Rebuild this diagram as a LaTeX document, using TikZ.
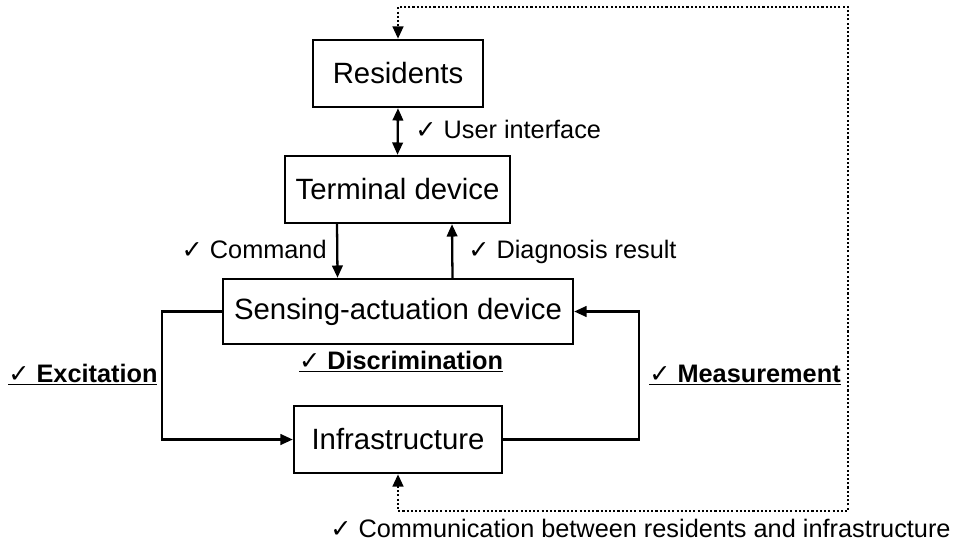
\documentclass[tikz,border=0pt]{standalone}
\usepackage{fontspec}
\setmainfont{Liberation Sans}
\newfontfamily\tickfont{DejaVu Sans}
\usetikzlibrary{arrows.meta,positioning}

\newcommand{\chkmark}{{\tickfont ✓}}
\newcommand{\boxfont}{\fontsize{16.7}{20}\selectfont}
\newcommand{\labfont}{\fontsize{14.4}{17}\selectfont}

\tikzset{
	block/.style = {draw, line width=1.4pt, font=\boxfont, inner sep=0pt},
	link/.style = {line width=1.3pt, -{Triangle[length=7pt,width=6pt]}},
	twoway/.style = {line width=1.3pt, {Triangle[length=7pt,width=6pt]}-{Triangle[length=7pt,width=6pt]}},
	bus/.style = {line width=1.4pt, dash pattern=on 1.2pt off 1.2pt,
		{Triangle[length=7pt,width=6pt]}-{Triangle[length=7pt,width=6pt]}},
	lab/.style = {font=\labfont, inner sep=0pt},
	keylab/.style = {font=\labfont\bfseries, inner sep=0pt}
}

\begin{document}
\begin{tikzpicture}[x=0.02cm, y=-0.02cm]
		\useasboundingbox (0,0) rectangle (955,544);

		% the four layers
		\node [block, minimum width=3.4cm, minimum height=1.34cm] (resid) at (398,73.5) {Residents};
		\node [block, minimum width=4.5cm, minimum height=1.34cm] (term) at (397.5,189.5) {Terminal device};
		\node [block, minimum width=7cm, minimum height=1.3cm] (sense) at (398,311.5) {Sensing-actuation device};
		\node [block, minimum width=4.16cm, minimum height=1.34cm] (infra) at (398,439.5) {Infrastructure};

		% residents <-> terminal
		\draw [twoway] (resid.south) -- (term.north);
		\node [lab, anchor=base west] (ui) at (415,138) {\chkmark\ User interface};

		% terminal <-> sensing
		\draw [link] ([xshift=-1.21cm]term.south) -- ([xshift=-1.21cm]sense.north);
		\draw [link] ([xshift=1.09cm]sense.north) -- ([xshift=1.09cm]term.south);
		\node [lab, anchor=base east] (cmd) at (327,258) {\chkmark\ Command};
		\node [lab, anchor=base west] (diag) at (468,258) {\chkmark\ Diagnosis result};

		% loop through the infrastructure
		\draw [link] (sense.west) -- ++(-60,0) |- (infra.west);
		\draw [link] (infra.east) -- ++(136,0) |- (sense.east);
		\node [keylab, anchor=base west] (exc) at (8,382) {\underline{\chkmark\ Excitation}};
		\node [keylab, anchor=base] (disc) at (401,369) {\underline{\chkmark\ Discrimination}};
		\node [keylab, anchor=base west] (meas) at (649,382) {\underline{\chkmark\ Measurement}};

		% residents <-> infrastructure
		\coordinate (lowcorner) at (848,511);
		\coordinate (highcorner) at (848,7);
		\draw [bus] (infra.south) |- (lowcorner) -- (highcorner) -| (resid.north);
		\node [lab, anchor=base west] (comm) at (330,537) {\chkmark\ Communication between residents and infrastructure};
	\end{tikzpicture}
\end{document}
